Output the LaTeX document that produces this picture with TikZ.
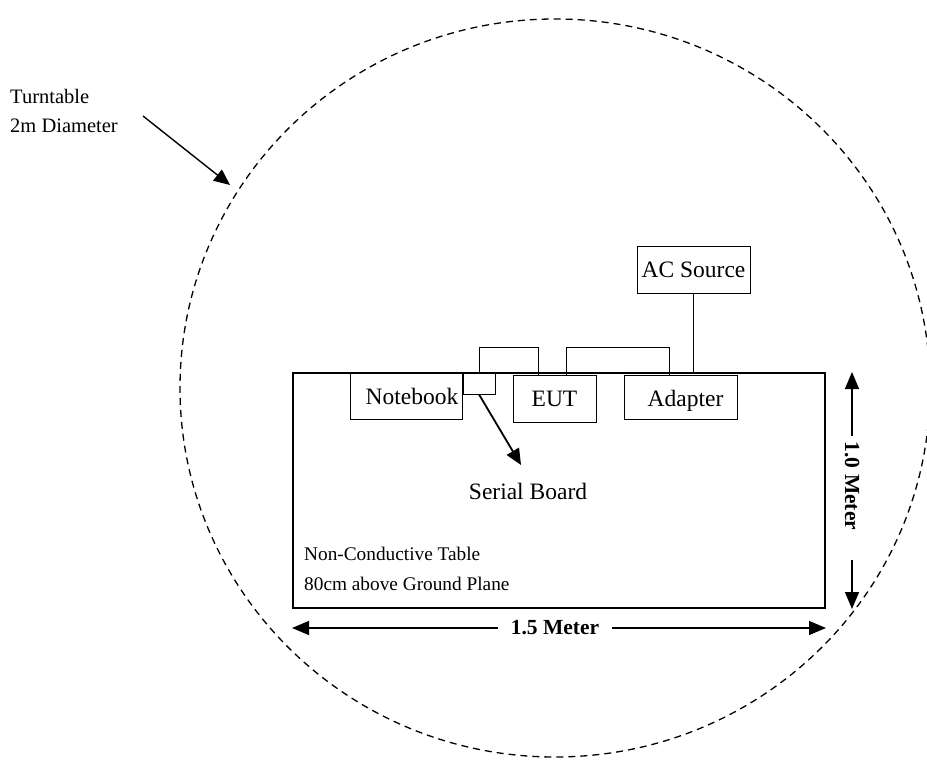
\documentclass[tikz,border=0pt]{standalone}
\usepackage{fontspec}
\setmainfont{Liberation Serif}
\usetikzlibrary{arrows.meta}
\begin{document}
\begin{tikzpicture}[x=1pt, y=-1pt,
        unit/.style={rectangle, draw, line width=0.9pt, inner sep=0pt, font=\fontsize{23.5}{28}\selectfont},
        note/.style={draw=none, inner sep=0pt, align=left, font=\fontsize{19.3}{29.5}\selectfont},
        dim/.style={line width=1.3pt, -{Triangle[length=17pt, width=14pt]}},
        lead/.style={line width=1.8pt, -{Triangle[length=16pt, width=14pt]}}
    ]
        \useasboundingbox (0,0) rectangle (927,760);

        % turntable
        \draw[line width=1.3pt, dash pattern=on 7pt off 5pt] (555,388) ellipse [x radius=375, y radius=369];
        \node[note, font=\fontsize{20.5}{29.5}\selectfont, anchor=north west] (turn) at (10,89) {Turntable\\2m Diameter};
        \coordinate (rim) at (230,185);
        \draw[lead, line width=1.4pt] (143,116) -- (rim);

        % table and equipment
        \node[rectangle, draw, line width=2pt, minimum width=532pt, minimum height=235pt] (table) at (559,490.5) {};
        \node[note, anchor=north west] (tabletxt) at (304,547) {Non-Conductive Table\\80cm above Ground Plane};

        \node[unit, minimum width=112pt, minimum height=46pt] (notebook) at (406,396) {\hspace*{12pt}Notebook};
        \node[unit, minimum width=32pt, minimum height=21pt] (serial) at (479,383.5) {};
        \node[unit, minimum width=83pt, minimum height=47pt] (eut) at (554.5,398.5) {EUT};
        \node[unit, minimum width=113pt, minimum height=44pt] (adapter) at (680.5,397) {\hspace*{10pt}Adapter\rule{0pt}{24pt}};
        \node[unit, minimum width=113pt, minimum height=47pt] (acsrc) at (693.5,269.5) {AC Source};

        % cables
        \draw[line width=0.9pt] (serial.north) -- ++(0,-25) -| ([xshift=-16pt]eut.north);
        \draw[line width=0.9pt] ([xshift=12pt]eut.north) -- ++(0,-27) -| ([xshift=-11.5pt]adapter.north);
        \draw[line width=0.9pt] (acsrc.south) -- (acsrc.south |- table.north);

        \node[font=\fontsize{23.5}{28}\selectfont] (serialtxt) at (528,491) {Serial Board};
        \draw[lead] (serial.south) -- (521,465);

        % dimensions
        \node[font=\bfseries\fontsize{21.5}{25}\selectfont, inner sep=13pt] (wlabel) at (555,628) {1.5 Meter};
        \draw[dim] (wlabel.west) -- (table.south west |- wlabel);
        \draw[dim] (wlabel.east) -- (table.south east |- wlabel);

        \node[font=\bfseries\fontsize{21.5}{25}\selectfont, rotate=-90, inner sep=6pt] (hlabel) at (852,486) {1.0 Meter};
        \draw[dim] (hlabel.west) -- (hlabel.west |- table.north);
        \draw[dim] ([yshift=-24pt]hlabel.east) -- (hlabel.east |- table.south);
    \end{tikzpicture}
\end{document}
